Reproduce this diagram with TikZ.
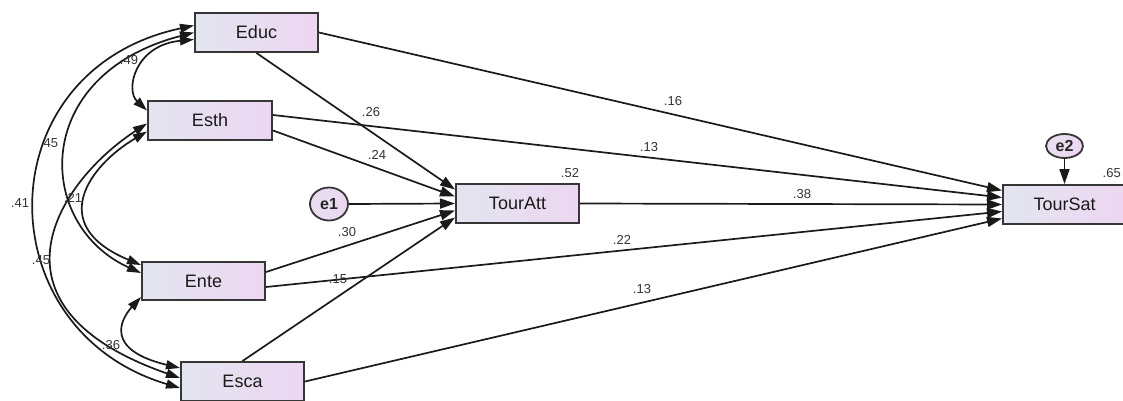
\documentclass[tikz,border=0pt]{standalone}
\usepackage{fontspec}
\setmainfont{Liberation Sans}
\usetikzlibrary{arrows.meta,calc,shapes.geometric}

\definecolor{linecol}{HTML}{1A1A1A}
\definecolor{boxedge}{HTML}{363636}
\definecolor{fillL}{HTML}{E2E5F0}
\definecolor{fillR}{HTML}{EDD6F1}
\definecolor{labcol}{HTML}{333333}

\tikzset{
  var/.style={draw=boxedge, line width=2pt, rectangle, left color=fillL, right color=fillR,
    minimum width=123pt, minimum height=39pt, inner sep=0pt,
    font=\fontsize{18}{20}\selectfont, text=black!90},
  err/.style={draw=boxedge, line width=1.8pt, ellipse, left color=fillL!60!fillR, right color=fillR,
    inner sep=0pt, font=\fontsize{16}{18}\selectfont\bfseries, text=black!85},
  path/.style={draw=linecol, line width=1.7pt, -{Triangle[length=15pt,width=10pt]}},
  cov/.style={draw=linecol, line width=1.7pt,
    {Triangle[length=14pt,width=9pt]}-{Triangle[length=14pt,width=9pt]}},
  coef/.style={font=\fontsize{13}{15}\selectfont, text=labcol, inner sep=0pt}
}

\begin{document}
\begin{tikzpicture}[x=1pt,y=-1pt]
\useasboundingbox (0,0) rectangle (1123,401);

% observed variables
\node[var] (Educ)    at (256.5,32.5)  {Educ};
\node[var, minimum width=124pt] (Esth) at (210,120.5) {Esth};
\node[var, minimum height=38pt] (Ente) at (203.5,281) {Ente};
\node[var] (Esca)    at (242.5,381.5) {Esca};
\node[var] (TourAtt) at (517.5,203.5) {TourAtt};
\node[var] (TourSat) at (1064.5,204.5) {TourSat};

% error terms
\node[err, minimum width=38pt, minimum height=33pt] (e1) at (329,204) {e1};
\node[err, minimum width=37pt, minimum height=24pt] (e2) at (1064.5,146) {e2};

% covariances between the exogenous variables
\draw[cov] ($(Educ.west)+(0,-7)$) .. controls (-15,70) and (-15,330) .. ($(Esca.west)+(0,6.5)$);
\draw[cov] ($(Educ.west)+(0,0)$) .. controls (30,75) and (35,225) .. ($(Ente.west)+(0,-8)$);
\draw[cov] ($(Educ.west)+(0,7)$) .. controls (135,45) and (125,90) .. ($(Esth.west)+(0,-10)$);
\draw[cov] ($(Esth.west)+(0,3)$) .. controls (60,180) and (-26,306) .. ($(Esca.west)+(0,-3.5)$);
\draw[cov] ($(Esth.west)+(0,11)$) .. controls (90,165) and (45,225) .. ($(Ente.west)+(0,-16)$);
\draw[cov] ($(Ente.west)+(0,16)$) .. controls (120,320) and (105,350) .. ($(Esca.west)+(0,-13.5)$);

% paths into TourAtt
\draw[path] (Educ.south) -- ($(TourAtt.west)+(0,-14)$);
\draw[path] ($(Esth.east)+(0,10)$) -- ($(TourAtt.west)+(0,-7)$);
\draw[path] (e1.east) -- (TourAtt.west);
\draw[path] ($(Ente.east)+(0,-9)$) -- ($(TourAtt.west)+(0,7)$);
\draw[path] (Esca.north) -- ($(TourAtt.west)+(0,14)$);

% paths into TourSat
\draw[path] (Educ.east) -- ($(TourSat.west)+(0,-14)$);
\draw[path] ($(Esth.east)+(0,-5.5)$) -- ($(TourSat.west)+(0,-7)$);
\draw[path] (TourAtt.east) -- (TourSat.west);
\draw[path] ($(Ente.east)+(0,6)$) -- ($(TourSat.west)+(0,7)$);
\draw[path] (Esca.east) -- ($(TourSat.west)+(0,14)$);
\draw[path] (e2.south) -- (TourSat.north);

% estimates
\node[coef] (c26) at (371,112) {.26};
\node[coef] (c24) at (377,155) {.24};
\node[coef] (c16) at (673,101) {.16};
\node[coef] (c13a) at (649,147) {.13};
\node[coef] (c52) at (570,173) {.52};
\node[coef] (c38) at (802,194) {.38};
\node[coef] (c30) at (347,232) {.30};
\node[coef] (c22) at (622,240) {.22};
\node[coef] (c15) at (338,279) {.15};
\node[coef] (c13b) at (642,289) {.13};
\node[coef, anchor=east] (c65) at (1121,173) {.65};
\node[coef] (c49) at (129,60) {.49};
\node[coef] (c45a) at (49,143) {.45};
\node[coef] (c41) at (20,203) {.41};
\node[coef] (c21) at (73,198) {.21};
\node[coef] (c45b) at (41,260) {.45};
\node[coef] (c36) at (111,345) {.36};
\end{tikzpicture}
\end{document}
